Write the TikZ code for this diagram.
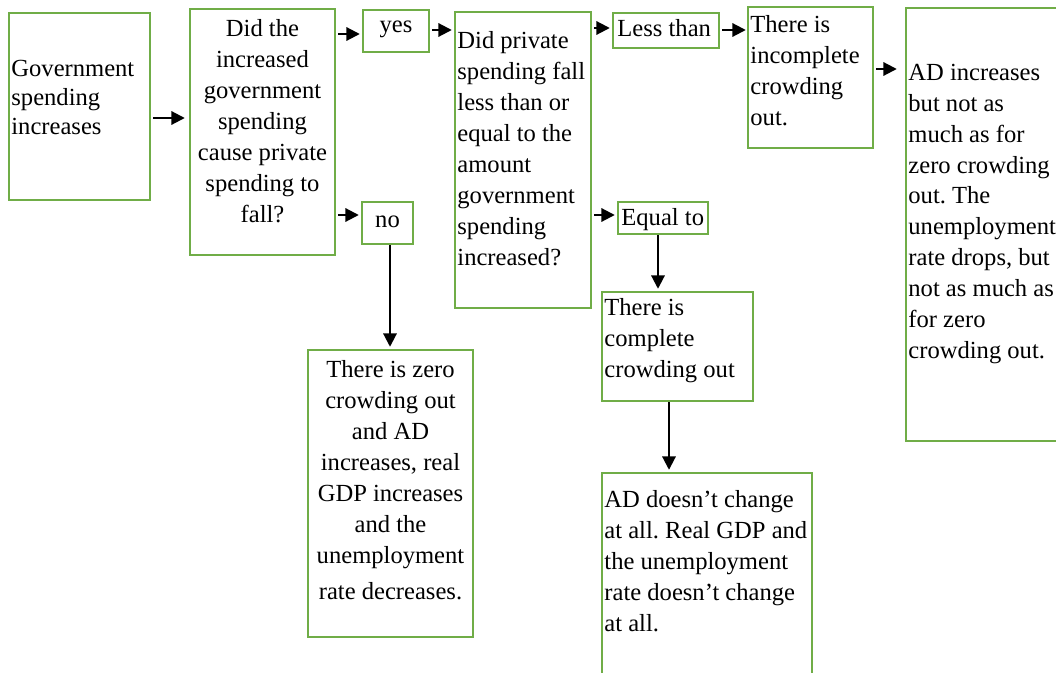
\documentclass[tikz,border=0pt]{standalone}
\usepackage{fontspec}
\setmainfont{Liberation Serif}
\usetikzlibrary{arrows.meta,calc}
\definecolor{boxgreen}{RGB}{112,173,71}
\newlength\pxu
\setlength\pxu{0.488pt}
\frenchspacing
\tikzstyle{gbox}=[draw=boxgreen,line width=1.2pt,inner sep=0pt,fill=white]
\tikzstyle{gtext}=[inner sep=0pt,font=\fontsize{12}{15.1}\selectfont]
\tikzstyle{flow}=[->,>={Triangle[length=6.5pt,width=6.5pt]},line width=1pt]

\begin{document}
\begin{tikzpicture}[x=0.488pt,y=-0.488pt]
\useasboundingbox (0,0) rectangle (1056,673);
\node[gbox,minimum width=141\pxu,minimum height=187\pxu] (gov) at (79.5,106.5) {};
\node[gbox,minimum width=145\pxu,minimum height=246\pxu] (quest) at (262.5,132) {};
\node[gbox,minimum width=66\pxu,minimum height=42\pxu] (yes) at (396,31) {};
\node[gbox,minimum width=51\pxu,minimum height=42\pxu] (no) at (387.5,223) {};
\node[gbox,minimum width=136\pxu,minimum height=296\pxu] (priv) at (523,160) {};
\node[gbox,minimum width=106\pxu,minimum height=35\pxu] (less) at (666,30.5) {};
\node[gbox,minimum width=90\pxu,minimum height=32\pxu] (equal) at (663,218) {};
\node[gbox,minimum width=125\pxu,minimum height=141\pxu] (incomp) at (810.5,77.5) {};
\node[gbox,minimum width=164\pxu,minimum height=433\pxu] (adinc) at (988,224.5) {};
\node[gbox,minimum width=165\pxu,minimum height=287\pxu] (zero) at (390.5,493.5) {};
\node[gbox,minimum width=151\pxu,minimum height=109\pxu] (compl) at (677.5,346.5) {};
\node[gbox,minimum width=210\pxu,minimum height=217\pxu] (addoes) at (707,581.5) {};

\node[gtext,align=left,anchor=north west,font=\fontsize{12}{14.2}\selectfont] (govtext) at (11,59.5) {Government\\spending\\increases};
\node[gtext,align=center,anchor=north] (questtext) at (262.5,19) {Did the\\increased\\government\\spending\\cause private\\spending to\\fall?};
\node[gtext,anchor=base] (yestext) at (396,33) {yes};
\node[gtext,anchor=base] (notext) at (387.5,227) {no};
\node[gtext,align=left,anchor=north west] (privtext) at (457,31) {Did private\\spending fall\\less than or\\equal to the\\amount\\government\\spending\\increased?};
\node[gtext,anchor=base west] (lesstext) at (617,37) {Less than};
\node[gtext,anchor=base west] (equaltext) at (621,225) {Equal to};
\node[gtext,align=left,anchor=north west] (incomptext) at (750,15) {There is\\incomplete\\crowding\\out.};
\node[gtext,align=left,anchor=north west] (adinctext) at (908,63.5) {AD increases\\but not as\\much as for\\zero crowding\\out. The\\unemployment\\rate drops, but\\not as much as\\for zero\\crowding out.};
\node[gtext,align=center,anchor=north] (zerotext) at (390.5,360) {There is zero\\crowding out\\and AD\\increases, real\\GDP increases\\and the\\unemployment\\[2.5pt]rate decreases.};
\node[gtext,align=left,anchor=north west] (compltext) at (604,298.5) {There is\\complete\\crowding out};
\node[gtext,align=left,anchor=north west] (addoestext) at (604,490) {AD doesn’t change\\at all. Real GDP and\\the unemployment\\rate doesn’t change\\at all.};

\draw[flow] ($(gov.east)+(2,11.5)$) -- ($(quest.west)+(-4,-14)$);
\draw[flow] ($(quest.east)+(2,-98)$) -- ($(yes.west)+(-2,3)$);
\draw[flow] ($(quest.east)+(2,83)$) -- ($(no.west)+(-2,-8)$);
\draw[flow] ($(yes.east)+(2,-1)$) -- ($(priv.west)+(-2,-130)$);
\draw[flow] ($(priv.east)+(2,-132)$) -- ($(less.west)+(-2,-2.5)$);
\draw[flow] ($(priv.east)+(2,55)$) -- ($(equal.west)+(-2,-3)$);
\draw[flow] ($(less.east)+(2,-0.5)$) -- ($(incomp.west)+(-1,-47.5)$);
\draw[flow] ($(incomp.east)+(2,-8.5)$) -- ($(adinc.west)+(-8,-155.5)$);
\draw[flow] ($(no.south)+(2.5,0)$) -- ($(zero.north)+(-0.5,-2)$);
\draw[flow] ($(equal.south)+(-5,0)$) -- ($(compl.north)+(-19.5,-2)$);
\draw[flow] ($(compl.south)+(-8.5,0)$) -- ($(addoes.north)+(-38,-2)$);
\end{tikzpicture}
\end{document}
